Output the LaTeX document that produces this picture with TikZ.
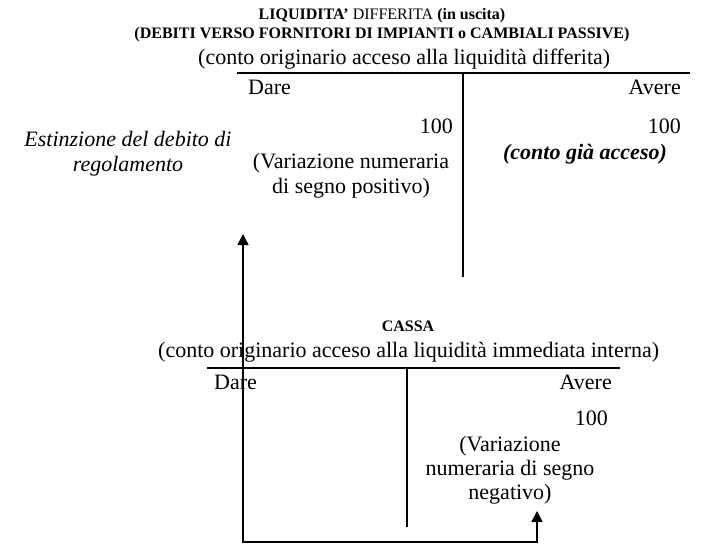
\documentclass[tikz,border=0pt]{standalone}
\usepackage{fontspec}
\setmainfont{Liberation Serif}
\usetikzlibrary{arrows.meta}
\tikzset{
  body/.style={inner sep=0pt, anchor=base, font=\fontsize{22}{25}\selectfont},
  small/.style={inner sep=0pt, anchor=base, font=\fontsize{16}{19}\selectfont},
  rule/.style={line width=1.6pt},
  flow/.style={line width=1.6pt, -{Triangle[width=11pt,length=11pt]}},
}
\begin{document}
\begin{tikzpicture}[x=1pt,y=-1pt]
\useasboundingbox (0,0) rectangle (706,544);
% ---- top account
\node[small] (t1) at (382,19) {\textbf{LIQUIDITA’} DIFFERITA \textbf{(in uscita)}};
\node[small] (t2) at (382,38) {\textbf{(DEBITI VERSO FORNITORI DI IMPIANTI o CAMBIALI PASSIVE)}};
\node[body, anchor=base west] (t3) at (198,64) {(conto originario acceso alla liquidità differita)};
\coordinate (r1l) at (237,73);
\coordinate (r1r) at (690,73);
\coordinate (s1t) at (463,73);
\coordinate (s1b) at (463,277);
\draw[rule] (r1l) -- (r1r);
\draw[rule] (s1t) -- (s1b);
\node[body, anchor=base west] (dare1) at (248,94) {Dare};
\node[body, anchor=base east] (avere1) at (681,94) {Avere};
\node[body, anchor=base east] (d100) at (453,133) {100};
\node[body, anchor=base east] (a100) at (681,133) {100};
\node[body] (est1) at (128,146) {\itshape Estinzione del debito di};
\node[body] (est2) at (128,171) {\itshape regolamento};
\node[body] (varp1) at (351,168) {(Variazione numeraria};
\node[body] (varp2) at (351,193) {di segno positivo)};
\node[body] (gia) at (585,159) {\textbf{\textit{(conto già acceso)}}};
% ---- bottom account
\node[small] (cassa) at (408,331) {\textbf{CASSA}};
\node[body, anchor=base west] (c2) at (158,357) {(conto originario acceso alla liquidità immediata interna)};
\coordinate (r2l) at (207,368);
\coordinate (r2r) at (620,368);
\coordinate (s2t) at (407,368);
\coordinate (s2b) at (407,527);
\draw[rule] (r2l) -- (r2r);
\draw[rule] (s2t) -- (s2b);
\node[body, anchor=base west] (dare2) at (214,389) {Dare};
\node[body, anchor=base east] (avere2) at (612,389) {Avere};
\node[body, anchor=base east] (c100) at (608,425) {100};
\node[body] (varn1) at (510,451) {(Variazione};
\node[body] (varn2) at (510,475) {numeraria di segno};
\node[body] (varn3) at (510,499) {negativo)};
% ---- connector
\coordinate (bl) at (243,542);
\coordinate (br) at (537,542);
\coordinate (tipL) at (243,234);
\coordinate (tipR) at (537,511);
\draw[flow] (br) -- (bl) -- (tipL);
\draw[flow] (bl) -- (br) -- (tipR);
\end{tikzpicture}
\end{document}
